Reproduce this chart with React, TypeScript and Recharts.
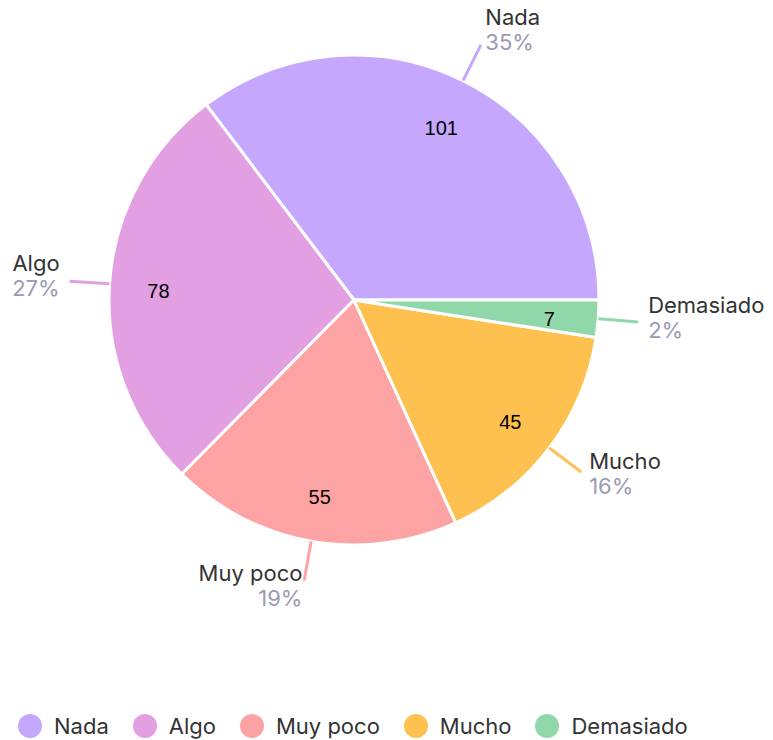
import React from 'react';
import { PieChart, Pie, Cell, Legend } from 'recharts';

const categories = ['Nada', 'Algo', 'Muy poco', 'Mucho', 'Demasiado'];
const values = [101, 78, 55, 45, 7];
const colors = ['#C5A8FE', '#E2A0E2', '#FEA3A3', '#FEC14F', '#90D8AA'];

const data = categories.map((name, i) => ({ name, value: values[i] }));

const RAD = Math.PI / 180;
const FONT = 'Inter, "Noto Sans", sans-serif';

const renderLabel = (props: any) => {
  const { cx, cy, midAngle, outerRadius, percent, name, value, index } = props;
  const cos = Math.cos(-midAngle * RAD);
  const sin = Math.sin(-midAngle * RAD);
  const sx = cx + outerRadius * cos;
  const sy = cy + outerRadius * sin;
  const ex = cx + (outerRadius + 40) * cos;
  const ey = cy + (outerRadius + 40) * sin;
  const upSin = -sin;
  const tx = ex + 10 * cos;
  const anchor = cos >= 0 ? 'start' : 'end';
  const nameY = ey - 18 - 11 * upSin;
  const pctY = nameY + 25;
  const vx = cx + outerRadius * 0.8 * cos;
  const vy = cy + outerRadius * 0.8 * sin + 4;
  return (
    <g key={`lbl-${index}`}>
      <line x1={sx} y1={sy} x2={ex} y2={ey} stroke={colors[index]} strokeWidth={3} />
      <text x={tx} y={nameY} textAnchor={anchor} dominantBaseline="central" fill="#333333" fontSize={22} fontFamily={FONT}>
        {name}
      </text>
      <text x={tx} y={pctY} textAnchor={anchor} dominantBaseline="central" fill="#9A9AB5" fontSize={22} fontFamily={FONT}>
        {`${Math.round(percent * 100)}%`}
      </text>
      <text x={vx} y={vy} textAnchor="middle" dominantBaseline="central" fill="#000000" fontSize={20} fontFamily={'"Liberation Sans", Arial, sans-serif'}>
        {value}
      </text>
    </g>
  );
};

const renderLegend = () => (
  <div style={{ display: 'flex', alignItems: 'center', fontFamily: FONT, fontSize: 22, color: '#333333', height: 26 }}>
    {categories.map((c, i) => (
      <div key={c} style={{ display: 'flex', alignItems: 'center', marginRight: 24 }}>
        <span style={{ width: 24, height: 24, borderRadius: 12, background: colors[i], display: 'inline-block', marginRight: 12 }} />
        <span>{c}</span>
      </div>
    ))}
  </div>
);

export default function App() {
  return (
    <div style={{ position: 'absolute', left: 0, top: 0, background: '#ffffff' }}>
      <PieChart width={773} height={740} margin={{ top: 0, right: 0, bottom: 0, left: 0 }}>
        <Pie
          data={data}
          dataKey="value"
          nameKey="name"
          cx={354}
          cy={300}
          outerRadius={245}
          startAngle={0}
          endAngle={360}
          stroke="#ffffff"
          strokeWidth={3}
          label={renderLabel}
          labelLine={false}
          isAnimationActive={false}
        >
          {data.map((d, i) => (
            <Cell key={d.name} fill={colors[i]} />
          ))}
        </Pie>
        <Legend content={renderLegend} wrapperStyle={{ left: 18, top: 713, width: 740 }} />
      </PieChart>
    </div>
  );
}
